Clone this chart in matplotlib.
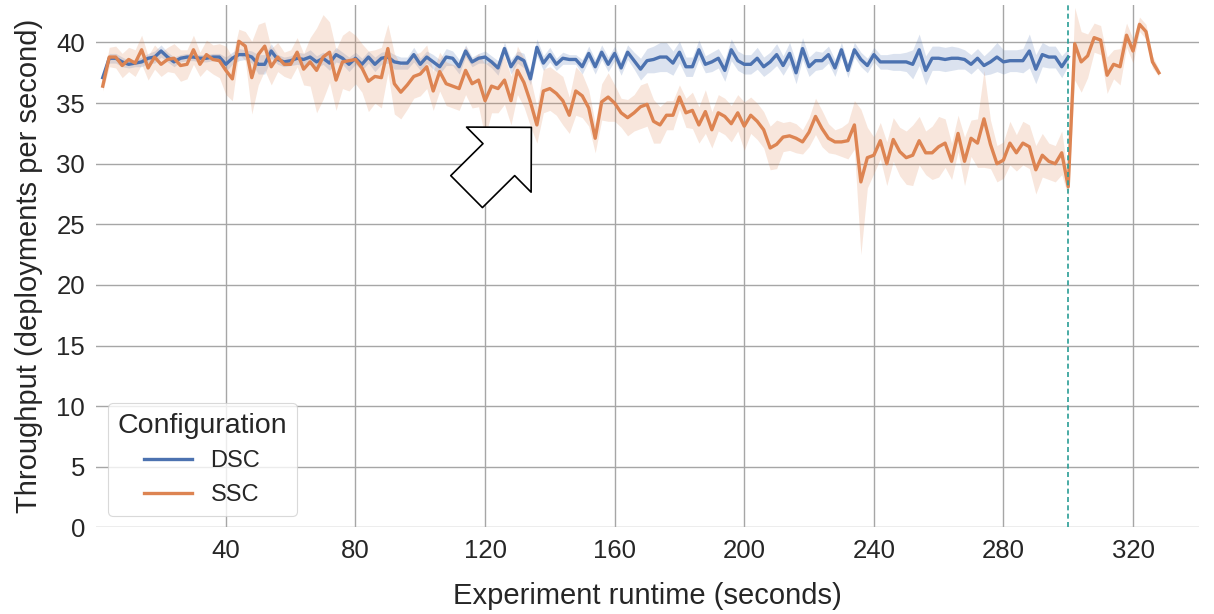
import matplotlib
matplotlib.use("Agg")
import matplotlib.pyplot as plt
import numpy as np

# time axis: one sample every 2 seconds
dsc_time = np.arange(2, 301, 2)
ssc_time = np.arange(2, 329, 2)

dsc_mean = [
    37.1, 38.7, 38.7, 38.4, 38.2, 38.3, 38.4, 38.7, 38.8, 39.3,
    38.8, 38.4, 38.7, 38.8, 38.8, 38.7, 38.7, 38.8, 38.8, 38.2,
    38.7, 39.0, 39.0, 38.8, 38.2, 38.2, 39.3, 38.6, 38.4, 38.5,
    38.7, 38.6, 38.8, 38.4, 38.7, 38.3, 39.0, 38.7, 38.2, 38.7,
    38.2, 38.8, 38.2, 38.7, 38.8, 38.4, 38.3, 38.3, 39.0, 38.2,
    38.8, 38.4, 38.0, 38.8, 38.7, 38.0, 39.3, 38.4, 38.7, 38.8,
    38.4, 37.9, 39.5, 38.0, 38.8, 38.5, 37.0, 39.6, 38.3, 39.0,
    38.2, 38.7, 38.6, 38.6, 38.0, 39.1, 38.0, 39.2, 38.2, 39.1,
    37.9, 39.2, 38.5, 37.8, 38.5, 38.6, 38.8, 38.8, 38.3, 39.2,
    38.0, 38.0, 39.4, 38.2, 38.4, 38.7, 37.7, 39.4, 38.5, 38.2,
    38.2, 38.7, 38.0, 38.4, 39.0, 38.1, 39.1, 37.5, 39.5, 38.0,
    38.5, 38.5, 39.0, 37.9, 39.4, 37.7, 39.4, 38.6, 38.1, 39.0,
    38.4, 38.4, 38.4, 38.4, 38.4, 38.2, 39.4, 37.7, 38.7, 38.7,
    38.6, 38.7, 38.7, 38.6, 38.2, 38.7, 38.1, 38.4, 38.8, 38.4,
    38.5, 38.5, 38.5, 39.3, 37.8, 39.0, 38.8, 38.8, 38.0, 38.8,
]
dsc_err = [
    0.3, 0.4, 0.4, 0.4, 0.3, 0.3, 0.4, 0.4, 0.5, 0.5,
    0.4, 0.4, 0.3, 0.3, 0.3, 0.3, 0.3, 0.3, 0.3, 0.6,
    0.5, 0.5, 0.4, 0.5, 0.8, 0.8, 0.6, 0.4, 0.4, 0.4,
    0.5, 0.5, 0.6, 0.5, 0.5, 0.6, 0.6, 0.5, 0.6, 0.5,
    0.5, 0.5, 0.6, 0.5, 0.5, 0.6, 0.5, 0.5, 0.6, 0.5,
    0.5, 0.6, 0.6, 0.7, 0.6, 0.6, 0.5, 0.4, 0.4, 0.5,
    0.5, 0.6, 0.5, 0.6, 0.5, 0.6, 0.5, 0.7, 0.6, 0.6,
    0.5, 0.5, 0.4, 0.4, 0.6, 0.6, 0.6, 0.6, 0.6, 0.6,
    0.6, 0.6, 0.7, 0.9, 1.0, 1.1, 1.2, 1.2, 1.0, 0.9,
    0.8, 0.8, 0.8, 0.7, 0.8, 0.8, 0.9, 0.9, 0.8, 0.8,
    0.8, 0.9, 0.8, 0.8, 0.9, 0.8, 0.9, 0.9, 0.9, 0.8,
    0.8, 0.7, 0.7, 0.7, 0.6, 0.6, 0.6, 0.6, 0.6, 0.6,
    0.6, 0.6, 0.7, 0.7, 0.8, 1.2, 1.3, 1.2, 1.0, 1.0,
    1.0, 1.0, 0.9, 0.8, 0.8, 0.8, 0.8, 1.0, 1.2, 1.0,
    0.9, 0.9, 1.0, 1.4, 1.2, 1.0, 0.9, 0.9, 0.9, 0.7,
]

ssc_mean = [
    36.4, 38.8, 38.8, 38.1, 38.6, 38.3, 39.4, 37.9, 38.8, 38.2,
    38.6, 38.7, 38.1, 38.2, 39.4, 38.2, 39.0, 38.6, 38.5, 37.7,
    37.0, 40.1, 39.7, 37.1, 39.0, 39.7, 38.0, 38.8, 38.2, 38.2,
    39.2, 37.8, 38.4, 37.7, 38.8, 39.2, 36.9, 38.4, 38.5, 38.6,
    37.9, 36.8, 37.2, 37.1, 39.5, 36.6, 35.9, 36.5, 37.2, 37.4,
    38.0, 36.0, 37.6, 36.6, 36.4, 36.2, 37.7, 36.6, 36.9, 35.2,
    36.4, 36.2, 36.9, 35.2, 37.7, 36.7, 35.1, 33.2, 36.0, 36.2,
    35.8, 35.2, 34.0, 36.0, 35.6, 34.6, 32.1, 35.1, 35.5, 35.0,
    34.2, 33.8, 34.2, 34.7, 34.9, 33.5, 33.2, 34.0, 34.0, 35.5,
    34.2, 34.4, 33.2, 34.3, 32.8, 34.2, 33.9, 33.3, 34.2, 33.1,
    34.0, 33.5, 32.8, 31.3, 31.6, 32.2, 32.3, 32.1, 31.8, 32.6,
    33.9, 32.9, 32.1, 31.8, 31.8, 31.9, 33.2, 28.5, 30.5, 30.7,
    31.9, 30.0, 32.0, 31.0, 30.5, 30.7, 31.9, 30.9, 30.9, 31.4,
    31.7, 30.2, 32.5, 30.2, 32.1, 31.7, 33.7, 31.6, 30.0, 30.3,
    31.7, 30.9, 31.7, 31.4, 29.5, 30.7, 30.2, 30.0, 30.9, 28.1,
    39.9, 38.4, 38.9, 40.4, 40.2, 37.3, 38.2, 38.0, 40.6, 39.3,
    41.5, 40.9, 38.4, 37.5,
]
ssc_err = [
    0.4, 0.8, 0.9, 1.0, 1.0, 1.1, 1.2, 1.0, 1.0, 1.0,
    1.0, 1.2, 1.3, 1.2, 1.2, 1.0, 1.2, 1.2, 1.4, 2.0,
    1.8, 1.0, 1.2, 3.0, 2.5, 2.0, 1.5, 1.2, 1.0, 1.2,
    1.2, 1.3, 2.0, 3.5, 3.5, 2.5, 2.5, 2.2, 2.5, 2.0,
    2.0, 2.5, 2.2, 2.5, 2.0, 2.5, 2.2, 2.0, 1.8, 1.8,
    1.8, 1.6, 1.6, 1.8, 1.8, 1.8, 2.0, 2.0, 2.2, 3.0,
    2.2, 2.0, 2.0, 2.0, 2.0, 2.0, 2.0, 1.5, 1.8, 1.8,
    1.8, 2.0, 1.5, 2.0, 1.8, 1.5, 1.2, 1.5, 2.0, 1.5,
    1.2, 1.5, 1.5, 1.8, 1.8, 1.8, 1.5, 1.2, 1.2, 1.0,
    1.2, 1.5, 1.5, 1.8, 1.5, 1.5, 1.5, 1.5, 1.5, 2.0,
    1.5, 1.5, 1.5, 1.8, 2.0, 1.2, 1.2, 1.2, 1.0, 1.2,
    1.5, 1.5, 1.2, 1.0, 1.2, 1.5, 2.0, 6.0, 2.5, 1.5,
    1.5, 1.8, 1.8, 2.0, 2.2, 2.5, 2.0, 1.8, 2.2, 2.5,
    2.0, 1.5, 1.5, 2.0, 1.5, 2.0, 4.0, 2.0, 1.5, 1.5,
    1.8, 1.5, 1.8, 1.8, 2.0, 1.8, 1.5, 1.5, 1.8, 0.8,
    3.0, 2.5, 1.8, 1.2, 1.2, 1.5, 1.2, 1.5, 1.0, 1.0,
    0.6, 0.6, 0.5, 0.3,
]

switch_time = 300
x_ticks = [40, 80, 120, 160, 200, 240, 280, 320]
y_ticks = [0, 5, 10, 15, 20, 25, 30, 35, 40]

plt.rcParams["font.family"] = ["Liberation Sans", "DejaVu Sans"]
plt.rcParams["text.color"] = ".15"
plt.rcParams["axes.labelcolor"] = ".15"
plt.rcParams["xtick.color"] = ".15"
plt.rcParams["ytick.color"] = ".15"

fig = plt.figure(figsize=(12.14, 6.14), dpi=100)
ax = fig.add_axes([0.0793, 0.141, 0.9087, 0.851])

blue = "#4c72b0"
orange = "#dd8452"

for t, m, e, c, name in [
    (dsc_time, dsc_mean, dsc_err, blue, "DSC"),
    (ssc_time, ssc_mean, ssc_err, orange, "SSC"),
]:
    m = np.array(m)
    e = np.array(e)
    ax.fill_between(t, m - e, m + e, color=c, alpha=0.2, linewidth=0)
    ax.plot(t, m, color=c, linewidth=2.4, label=name)

ax.axvline(switch_time, color="#2a9d96", linewidth=1.2, linestyle=(0, (3, 2)))

# hollow arrow pointing at the drop
ax.annotate(
    "",
    xy=(134.3, 33.0),
    xytext=(114.3, 27.7),
    arrowprops=dict(facecolor="white", edgecolor="black", width=32.4,
                    headwidth=66, headlength=33, linewidth=1.2),
)

ax.set_xlim(0, 340.5)
ax.set_ylim(0, 43.1)
ax.set_xticks(x_ticks)
ax.set_yticks(y_ticks)
ax.grid(True, color="#a6a6a6", linewidth=1.0)
ax.set_axisbelow(True)
for s in ax.spines.values():
    s.set_visible(False)
ax.tick_params(length=0, labelsize=18.5, pad=8)

ax.set_xlabel("Experiment runtime (seconds)", fontsize=21, labelpad=14)
ax.set_ylabel("Throughput (deployments per second)", fontsize=21, labelpad=10)

leg = ax.legend(title="Configuration", loc="lower left", fontsize=17,
                title_fontsize=20.5, edgecolor="#d0d0d0", fancybox=True)
leg.get_frame().set_linewidth(0.8)

plt.savefig("out.png", dpi=100)
